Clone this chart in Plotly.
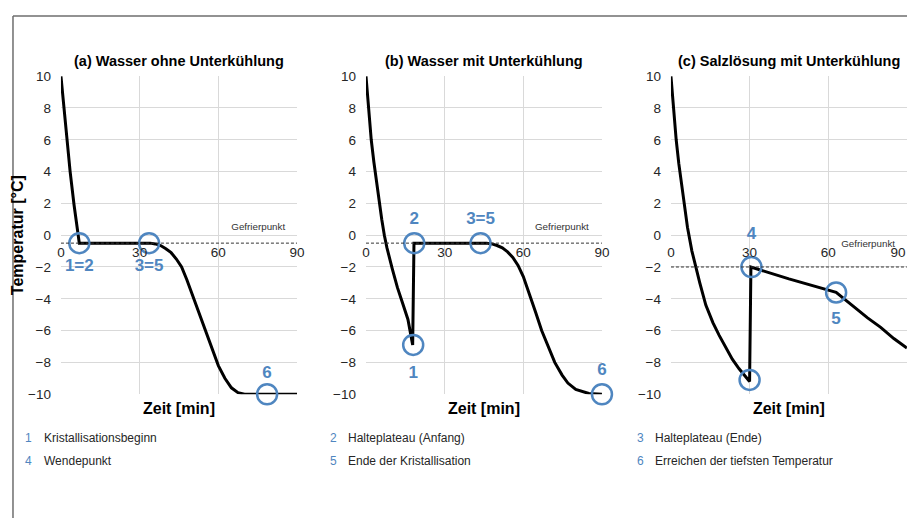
import plotly.graph_objects as go

# ---------------- data ----------------
titles = ["(a) Wasser ohne Unterkühlung", "(b) Wasser mit Unterkühlung", "(c) Salzlösung mit Unterkühlung"]

a_x = [0, 1, 2, 3.5, 5, 6.5, 7, 20, 34, 36, 38, 40, 42, 44, 46, 48, 50, 52.5, 55, 57.5, 60, 62.5, 65, 67.5, 70, 90]
a_y = [10, 8.2, 6.6, 4, 1.9, 0, -0.5, -0.5, -0.5, -0.55, -0.65, -0.85, -1.1, -1.5, -2.0, -2.8, -3.7, -4.8, -6.0, -7.1, -8.2, -9.0, -9.6, -9.9, -10, -10]

b_x = [0, 1, 2, 3, 4, 5, 6, 7, 8, 10, 12, 14, 16, 17.8, 18.3, 30, 46, 48, 50, 52, 54, 56, 58, 60, 62, 64.6, 67, 69.7, 72, 74.8, 77, 80, 85, 90]
b_y = [10, 7.9, 6.0, 4.6, 3.3, 2.1, 1.0, 0.0, -0.8, -2.1, -3.3, -4.3, -5.3, -6.9, -0.5, -0.5, -0.5, -0.55, -0.65, -0.8, -1.05, -1.4, -1.9, -2.6, -3.5, -4.8, -6.0, -7.1, -8.0, -8.8, -9.3, -9.7, -9.95, -10]

c_x = [0, 1, 2, 3, 4, 5, 6.3, 8, 9.5, 11, 13.3, 16, 18.4, 21, 23.4, 26, 28, 30, 30.5, 45, 63, 66, 70, 75, 80, 85, 90]
c_y = [10, 7.9, 6.0, 4.5, 3.2, 2.0, 0.5, -1.0, -2.05, -3.0, -4.4, -5.5, -6.3, -7.1, -7.8, -8.4, -8.8, -9.2, -2.0, -2.75, -3.6, -4.0, -4.5, -5.2, -5.8, -6.5, -7.1]

freeze_level = [-0.5, -0.5, -2.0]
freeze_label = "Gefrierpunkt"
freeze_label_x = [85.5, 85.0, 85.5]
freeze_label_y = [0.45, 0.45, -0.6]

# circled points and their labels
a_pts_x = [7, 33.6, 78.6]
a_pts_y = [-0.5, -0.5, -10]
a_lbl = ["1=2", "3=5", "6"]
a_lbl_y = [-2.0, -2.0, -8.7]

b_pts_x = [18.0, 18.4, 43.7, 90]
b_pts_y = [-6.9, -0.5, -0.5, -10]
b_lbl = ["1", "2", "3=5", "6"]
b_lbl_y = [-8.7, 1.0, 1.0, -8.5]

c_pts_x = [30.0, 30.7, 63]
c_pts_y = [-9.1, -2.0, -3.6]
c_lbl = ["1", "4", "5"]
c_lbl_x = [29.5, 30.7, 63]
c_lbl_y = [-10.6, 0.0, -5.3]

x_ticks = [0, 30, 60, 90]
y_ticks = [-10, -8, -6, -4, -2, 0, 2, 4, 6, 8, 10]
x_title = "Zeit [min]"
y_title = "Temperatur [°C]"

legend_nums = ["1", "4", "2", "5", "3", "6"]
legend_txt = ["Kristallisationsbeginn", "Wendepunkt", "Halteplateau (Anfang)", "Ende der Kristallisation",
              "Halteplateau (Ende)", "Erreichen der tiefsten Temperatur"]

# ---------------- styles ----------------
W, H = 915, 518
BLUE = "#4f86c0"
GRID = "#d9d9d9"
FONT = "Liberation Sans, Arial, sans-serif"
TICKFONT = dict(family=FONT, size=13.5, color="#262626")

x_domains = [[49.6 / W, 288.8 / W], [358.7 / W, 597.8 / W], [667.7 / W, 906.8 / W]]
y_domain = [1 - 390.5 / H, 1 - 63.0 / H]
zero_pos = y_domain[0] + (y_domain[1] - y_domain[0]) * 0.5

fig = go.Figure()

curves = [(a_x, a_y), (b_x, b_y), (c_x, c_y)]
pts = [(a_pts_x, a_pts_y), (b_pts_x, b_pts_y), (c_pts_x, c_pts_y)]
lbls = [(a_pts_x, a_lbl_y, a_lbl), (b_pts_x, b_lbl_y, b_lbl), (c_lbl_x, c_lbl_y, c_lbl)]

for i in range(3):
    xa = "x" if i == 0 else f"x{i + 1}"
    ya = "y" if i == 0 else f"y{i + 1}"
    xt = f"x{i + 4}"
    fig.add_trace(go.Scatter(x=[0, 90], y=[freeze_level[i]] * 2, xaxis=xt, yaxis=ya, mode="lines",
                             line=dict(color="#333333", width=1, dash="3px,2px"), hoverinfo="skip"))
    fig.add_trace(go.Scatter(x=curves[i][0], y=curves[i][1], xaxis=xa, yaxis=ya, mode="lines",
                             line=dict(color="black", width=3), hoverinfo="skip"))
    fig.add_trace(go.Scatter(x=pts[i][0], y=pts[i][1], xaxis=xa, yaxis=ya, mode="markers", cliponaxis=False,
                             marker=dict(size=20, color="rgba(0,0,0,0)", line=dict(color=BLUE, width=2.5)),
                             hoverinfo="skip"))
    fig.add_trace(go.Scatter(x=lbls[i][0], y=lbls[i][1], text=lbls[i][2], xaxis=xa, yaxis=ya, mode="text",
                             cliponaxis=False, textfont=dict(family=FONT, size=17, color=BLUE, weight="bold"),
                             hoverinfo="skip"))
    fig.add_trace(go.Scatter(x=[freeze_label_x[i]], y=[freeze_label_y[i]], text=[freeze_label], xaxis=xa, yaxis=ya,
                             mode="text", textposition="middle left", cliponaxis=False,
                             textfont=dict(family=FONT, size=9.8, color="#333333"), hoverinfo="skip"))

    xkey = "xaxis" if i == 0 else f"xaxis{i + 1}"
    ykey = "yaxis" if i == 0 else f"yaxis{i + 1}"
    fig.layout[xkey] = dict(domain=x_domains[i], anchor=ya, range=[0, 90], tickvals=x_ticks, showticklabels=False,
                            showgrid=True, gridcolor=GRID, gridwidth=1, zeroline=False, showline=False,
                            title=dict(text=f"<b>{x_title}</b>", font=dict(family=FONT, size=16, color="black"),
                                       standoff=8))
    ydict = dict(domain=y_domain, anchor=xa, range=[-10, 10], tickvals=y_ticks, showgrid=True, gridcolor=GRID,
                 gridwidth=1, zeroline=False, showline=False, ticklabelstandoff=9, tickfont=TICKFONT)
    if i == 0:
        ydict["title"] = dict(text=f"<b>{y_title}</b>", font=dict(family=FONT, size=16, color="black"), standoff=0)
    fig.layout[ykey] = ydict
    # tick labels of the time axis sit on the 0 °C line
    lab_ticks = x_ticks if i < 2 else x_ticks[:-1]
    fig.layout[f"xaxis{i + 4}"] = dict(overlaying=xa, anchor="free", position=zero_pos, range=[0, 90],
                                       tickvals=lab_ticks, showgrid=False, zeroline=False, showline=False,
                                       ticklabelstandoff=7, tickfont=TICKFONT)

    fig.add_annotation(text=f"<b>{titles[i]}</b>", xref="paper", yref="paper",
                       x=(x_domains[i][0] + x_domains[i][1]) / 2, y=1 - 47.5 / H, showarrow=False,
                       font=dict(family=FONT, size=14.5, color="black"), xanchor="center", yanchor="middle")

# last time tick of panel (c), nudged inwards so it stays inside the page
fig.add_trace(go.Scatter(x=[90], y=[freeze_level[2]], xaxis="x7", yaxis="y3", mode="lines",
                         line=dict(width=0), hoverinfo="skip"))
fig.layout["xaxis7"] = dict(overlaying="x3", anchor="free", position=zero_pos, range=[0, 90],
                            tickvals=x_ticks[-1:], showgrid=False, zeroline=False, showline=False,
                            ticklabelstandoff=7, ticklabelshift=-9, tickfont=TICKFONT)

# legend rows at the bottom
num_x = [17.2, 17.2, 326.2, 326.2, 637.3, 637.3]
txt_x = [30.4, 30.4, 338.4, 338.4, 649.4, 649.4]
row_y = [436, 459.7, 436, 459.7, 436, 459.7]
for k in range(6):
    fig.add_annotation(text=legend_nums[k], xref="paper", yref="paper", x=num_x[k] / W, y=1 - row_y[k] / H,
                       showarrow=False, xanchor="center", yanchor="middle",
                       font=dict(family=FONT, size=12, color=BLUE))
    fig.add_annotation(text=legend_txt[k], xref="paper", yref="paper", x=txt_x[k] / W, y=1 - row_y[k] / H,
                       showarrow=False, xanchor="left", yanchor="middle",
                       font=dict(family=FONT, size=12, color="#262626"))

# frame (top and left edges)
fig.add_shape(type="line", xref="paper", yref="paper", x0=1 / W, x1=1, y0=1 - 1 / H, y1=1 - 1 / H,
              line=dict(color="#6e6e6e", width=1.5))
fig.add_shape(type="line", xref="paper", yref="paper", x0=1 / W, x1=1 / W, y0=0, y1=1 - 1 / H,
              line=dict(color="#6e6e6e", width=1.5))

fig.update_layout(width=W, height=H, margin=dict(l=0, r=0, t=0, b=0), showlegend=False,
                  plot_bgcolor="white", paper_bgcolor="white", font=dict(family=FONT))

fig.write_html("out.html")
